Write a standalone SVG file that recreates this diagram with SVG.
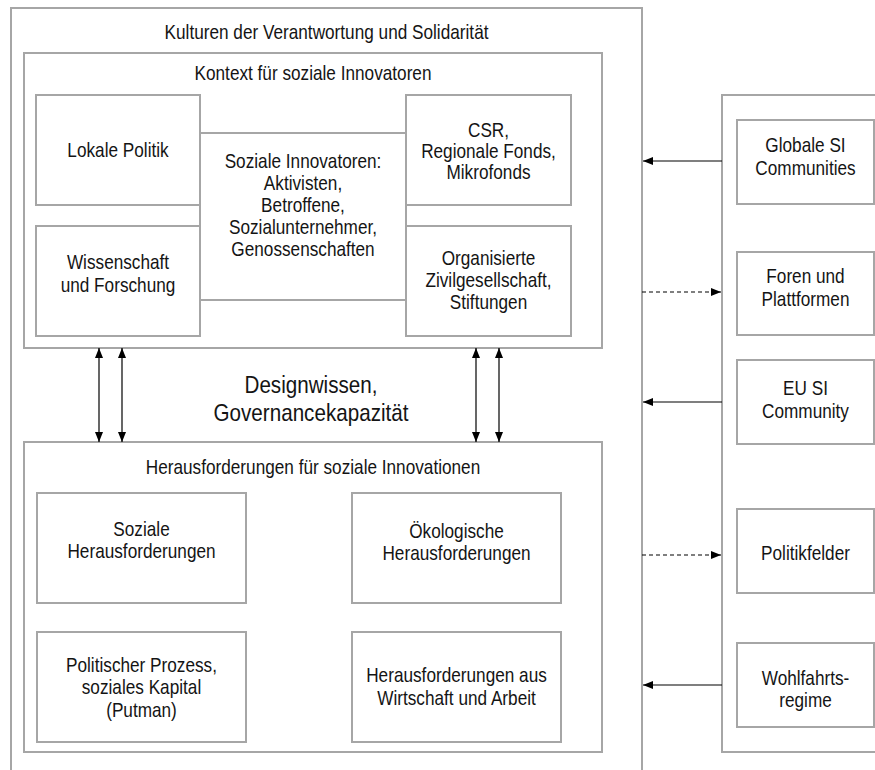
<svg xmlns="http://www.w3.org/2000/svg" width="875" height="770" viewBox="0 0 875 770">
<style>
.box{fill:#fff;stroke:#a6a6a6;stroke-width:2}
.frame{fill:none;stroke:#a6a6a6;stroke-width:2}
text{font-family:"Liberation Sans",Arial,sans-serif;font-size:20px;fill:#141414;text-anchor:middle}
.big{font-size:24px}
.arr{stroke:#000;stroke-width:1.2;fill:none}
.dash{stroke-dasharray:4 3}
</style>
<defs>
<marker id="ah" viewBox="0 0 10 8" refX="10" refY="4" markerWidth="10" markerHeight="8" markerUnits="userSpaceOnUse" orient="auto-start-reverse">
<path d="M0,0 L10,4 L0,8 z" fill="#000"/>
</marker>
</defs>
<rect width="875" height="770" fill="#fff"/>

<g id="kulturen">
<path class="frame" d="M11 780 V8 H642 V780"/>
<g transform="translate(326.5,0) scale(0.86,1)"><text x="0" y="39">Kulturen der Verantwortung und Solidarität</text></g>
</g>

<g id="kontext">
<rect class="box" x="24" y="53" width="578" height="295"/>
<g transform="translate(313,0) scale(0.86,1)"><text x="0" y="80">Kontext für soziale Innovatoren</text></g>
</g>
<g id="lokale-politik">
<rect class="box" x="36" y="95" width="164" height="110"/>
<g transform="translate(118,0) scale(0.86,1)"><text x="0" y="157">Lokale Politik</text></g>
</g>
<g id="wissenschaft">
<rect class="box" x="36" y="226" width="164" height="110"/>
<g transform="translate(118,0) scale(0.86,1)">
<text x="0" y="269">Wissenschaft</text>
<text x="0" y="292">und Forschung</text>
</g>
</g>
<g id="csr">
<rect class="box" x="406" y="95" width="165" height="110"/>
<g transform="translate(488.5,0) scale(0.86,1)">
<text x="0" y="137">CSR,</text>
<text x="0" y="158">Regionale Fonds,</text>
<text x="0" y="179">Mikrofonds</text>
</g>
</g>
<g id="zivilgesellschaft">
<rect class="box" x="406" y="226" width="165" height="110"/>
<g transform="translate(488.5,0) scale(0.86,1)">
<text x="0" y="265">Organisierte</text>
<text x="0" y="287">Zivilgesellschaft,</text>
<text x="0" y="309">Stiftungen</text>
</g>
</g>
<g id="innovatoren">
<rect class="box" x="200" y="133" width="206" height="167"/>
<g transform="translate(303,0) scale(0.86,1)">
<text x="0" y="168.5">Soziale Innovatoren:</text>
<text x="0" y="190.5">Aktivisten,</text>
<text x="0" y="212.5">Betroffene,</text>
<text x="0" y="234.5">Sozialunternehmer,</text>
<text x="0" y="256.5">Genossenschaften</text>
</g>
</g>

<g id="designwissen">
<g transform="translate(311,0) scale(0.86,1)">
<text class="big" x="0" y="393">Designwissen,</text>
<text class="big" x="0" y="421">Governancekapazität</text>
</g>
</g>

<g id="herausforderungen">
<rect class="box" x="24" y="442" width="578" height="310"/>
<g transform="translate(313,0) scale(0.86,1)"><text x="0" y="474">Herausforderungen für soziale Innovationen</text></g>
</g>
<g id="soziale-h">
<rect class="box" x="37" y="493" width="209" height="110"/>
<g transform="translate(141.5,0) scale(0.86,1)">
<text x="0" y="536">Soziale</text>
<text x="0" y="558">Herausforderungen</text>
</g>
</g>
<g id="oekologische-h">
<rect class="box" x="352" y="493" width="209" height="110"/>
<g transform="translate(456.5,0) scale(0.86,1)">
<text x="0" y="538">Ökologische</text>
<text x="0" y="560">Herausforderungen</text>
</g>
</g>
<g id="politischer-prozess">
<rect class="box" x="37" y="632" width="209" height="110"/>
<g transform="translate(141.5,0) scale(0.86,1)">
<text x="0" y="672">Politischer Prozess,</text>
<text x="0" y="694.5">soziales Kapital</text>
<text x="0" y="717">(Putman)</text>
</g>
</g>
<g id="wirtschaft-h">
<rect class="box" x="352" y="632" width="209" height="110"/>
<g transform="translate(456.5,0) scale(0.86,1)">
<text x="0" y="682">Herausforderungen aus</text>
<text x="0" y="705">Wirtschaft und Arbeit</text>
</g>
</g>

<g id="rechts">
<path class="frame" d="M880 95 H722 V752 H880"/>
</g>
<g id="globale">
<rect class="box" x="737" y="120" width="137" height="84"/>
<g transform="translate(805.5,0) scale(0.86,1)">
<text x="0" y="152">Globale SI</text>
<text x="0" y="175">Communities</text>
</g>
</g>
<g id="foren">
<rect class="box" x="737" y="252" width="137" height="83"/>
<g transform="translate(805.5,0) scale(0.86,1)">
<text x="0" y="283">Foren und</text>
<text x="0" y="306">Plattformen</text>
</g>
</g>
<g id="eu-si">
<rect class="box" x="737" y="360" width="137" height="84"/>
<g transform="translate(805.5,0) scale(0.86,1)">
<text x="0" y="395">EU SI</text>
<text x="0" y="418">Community</text>
</g>
</g>
<g id="politikfelder">
<rect class="box" x="737" y="509" width="137" height="84"/>
<g transform="translate(805.5,0) scale(0.86,1)"><text x="0" y="560">Politikfelder</text></g>
</g>
<g id="wohlfahrt">
<rect class="box" x="737" y="643" width="137" height="84"/>
<g transform="translate(805.5,0) scale(0.86,1)">
<text x="0" y="685">Wohlfahrts-</text>
<text x="0" y="707">regime</text>
</g>
</g>

<g id="connectors">
<line class="arr" x1="99" y1="348" x2="99" y2="442" marker-start="url(#ah)" marker-end="url(#ah)"/>
<line class="arr" x1="122" y1="348" x2="122" y2="442" marker-start="url(#ah)" marker-end="url(#ah)"/>
<line class="arr" x1="476" y1="348" x2="476" y2="442" marker-start="url(#ah)" marker-end="url(#ah)"/>
<line class="arr" x1="499" y1="348" x2="499" y2="442" marker-start="url(#ah)" marker-end="url(#ah)"/>
<line class="arr" x1="722" y1="161" x2="643" y2="161" marker-end="url(#ah)"/>
<line class="arr dash" x1="642" y1="292" x2="721" y2="292" marker-end="url(#ah)"/>
<line class="arr" x1="722" y1="402" x2="643" y2="402" marker-end="url(#ah)"/>
<line class="arr dash" x1="642" y1="555" x2="721" y2="555" marker-end="url(#ah)"/>
<line class="arr" x1="722" y1="685" x2="643" y2="685" marker-end="url(#ah)"/>
</g>
</svg>
